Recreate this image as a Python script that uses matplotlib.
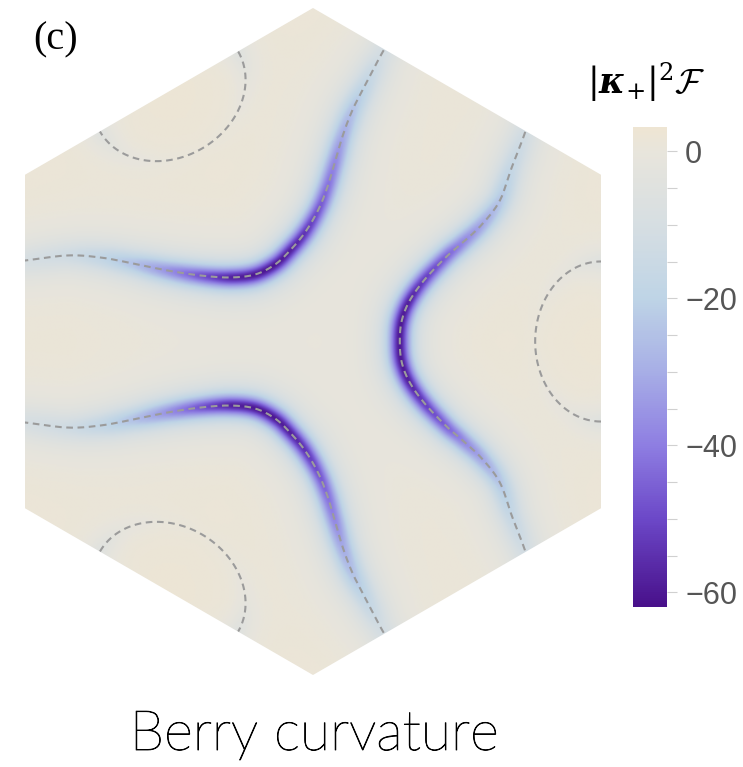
import numpy as np
import matplotlib
matplotlib.use('Agg')
import matplotlib.pyplot as plt
import matplotlib.patheffects as pe
from matplotlib.colors import LinearSegmentedColormap, Normalize
from matplotlib.patches import Polygon
from matplotlib.ticker import MultipleLocator

plt.rcParams['mathtext.fontset'] = 'custom'
plt.rcParams['mathtext.rm'] = 'DejaVu Serif'
plt.rcParams['mathtext.it'] = 'DejaVu Serif:italic'
plt.rcParams['mathtext.bf'] = 'DejaVu Serif:bold:italic'
plt.rcParams['mathtext.cal'] = 'cmsy10'

# colour scale of |kappa_+|^2 F
vmin, vmax = -62.0, 3.3
cbar_levels = [-62, -50, -40, -30, -20, -10, 0, 3.3]
cbar_colors = ['#48108a', '#6c48c8', '#8e7ee2', '#a7aee6', '#bed4e6',
               '#d6dee2', '#e8e5dc', '#eee5d3']
cbar_ticks = [0, -20, -40, -60]

# BZ hexagon (circumradius 1, pointy top)
hex_angles = np.deg2rad([90, 30, -30, -90, -150, 150])

# right-hand ridge of the curvature (BZ units), top edge -> bottom edge
right_kx = [0.655, 0.637, 0.598, 0.562, 0.508, 0.447, 0.402, 0.336, 0.291, 0.267,
            0.261,
            0.267, 0.291, 0.336, 0.402, 0.447, 0.508, 0.562, 0.598, 0.637, 0.655]
right_ky = [0.694, 0.625, 0.523, 0.423, 0.351, 0.294, 0.255, 0.186, 0.123, 0.063,
            0.0,
            -0.063, -0.123, -0.186, -0.255, -0.294, -0.351, -0.423, -0.523, -0.625, -0.694]
right_depth = [-12, -14, -19, -26, -34, -41, -47, -54, -60, -62,
               -62,
               -62, -60, -54, -47, -41, -34, -26, -19, -14, -12]
right_width = [0.055, 0.052, 0.046, 0.041, 0.037, 0.034, 0.032, 0.031, 0.030, 0.030,
               0.030,
               0.030, 0.030, 0.031, 0.032, 0.034, 0.037, 0.041, 0.046, 0.052, 0.055]

# upper-left ridge, left edge -> top edge (the lower-left one is its mirror in ky)
left_kx = [-0.910, -0.865, -0.739, -0.640, -0.541, -0.438, -0.339, -0.249, -0.174, -0.114,
           -0.069, -0.024, 0.015, 0.042, 0.066, 0.090, 0.120, 0.162, 0.201, 0.231]
left_ky = [0.240, 0.243, 0.258, 0.252, 0.234, 0.213, 0.198, 0.192, 0.201, 0.231,
           0.273, 0.327, 0.393, 0.459, 0.538, 0.619, 0.697, 0.778, 0.853, 0.904]
left_depth = [-11, -12, -15, -20, -27, -38, -50, -60, -62, -62,
              -60, -56, -50, -45, -40, -33, -27, -20, -14, -12]
left_width = [0.055, 0.054, 0.050, 0.046, 0.041, 0.036, 0.032, 0.030, 0.030, 0.030,
              0.030, 0.031, 0.032, 0.034, 0.036, 0.039, 0.043, 0.047, 0.052, 0.055]

# dashed pockets around the edge midpoints (inward depth, half-span along the edge)
pocket_angles = [0, 120, 240]
pocket_depth = 0.198
pocket_halfspan = 0.24
pocket_tint = [-7, -3, -1.5, -1, -1.5, -3, -7]
pocket_width = 0.036

base_level = 2.5


def smooth_curve(px, py, n=24):
    # Catmull-Rom through the control points, also returns the control-point index
    p = np.column_stack([px, py])
    p = np.vstack([2 * p[0] - p[1], p, 2 * p[-1] - p[-2]])
    pts, idx = [], []
    s = np.linspace(0, 1, n, endpoint=False)[:, None]
    for i in range(1, len(p) - 2):
        p0, p1, p2, p3 = p[i - 1], p[i], p[i + 1], p[i + 2]
        seg = 0.5 * (2 * p1 + (-p0 + p2) * s + (2 * p0 - 5 * p1 + 4 * p2 - p3) * s ** 2
                     + (-p0 + 3 * p1 - 3 * p2 + p3) * s ** 3)
        pts.append(seg)
        idx.append(i - 1 + s[:, 0])
    pts.append(p[-2][None])
    idx.append([len(p) - 3])
    return np.vstack(pts), np.concatenate(idx)


def ridge(kx, ky, depth, width):
    curve, idx = smooth_curve(kx, ky)
    ctrl = np.arange(len(kx))
    return curve, np.interp(idx, ctrl, depth), np.interp(idx, ctrl, width)


ridges = [ridge(right_kx, right_ky, right_depth, right_width),
          ridge(left_kx, left_ky, left_depth, left_width),
          ridge(left_kx, [-v for v in left_ky], left_depth, left_width)]

pockets = []
th = np.linspace(-np.pi / 2, np.pi / 2, 61)
th_ctrl = np.linspace(-np.pi / 2, np.pi / 2, len(pocket_tint))
for ang in pocket_angles:
    a = np.deg2rad(ang)
    mid = np.cos(np.pi / 6) * np.array([np.cos(a), np.sin(a)])
    nrm = -np.array([np.cos(a), np.sin(a)])
    tan = np.array([-np.sin(a), np.cos(a)])
    pts = (mid[None] + nrm[None] * pocket_depth * np.cos(th)[:, None]
           + tan[None] * pocket_halfspan * np.sin(th)[:, None])
    pockets.append((pts, np.interp(th, th_ctrl, pocket_tint),
                    np.full(th.size, pocket_width)))

# field on a grid covering the hexagon
hw = np.cos(np.pi / 6)
gx = np.linspace(-hw, hw, 460)
gy = np.linspace(-1, 1, 530)
KX, KY = np.meshgrid(gx, gy)
field = np.full(KX.shape, base_level)
for curve, amp, wid in ridges + pockets:
    best = np.full(KX.shape, np.inf)
    a_near = np.zeros(KX.shape)
    w_near = np.ones(KX.shape)
    for (cx, cy), a, w in zip(curve, amp, wid):
        d2 = (KX - cx) ** 2 + (KY - cy) ** 2
        m = d2 < best
        best[m] = d2[m]
        a_near[m] = a
        w_near[m] = w
    field += a_near / (1 + best / w_near ** 2)

pos = [(v - vmin) / (vmax - vmin) for v in cbar_levels]
cmap = LinearSegmentedColormap.from_list('bc', list(zip(pos, cbar_colors)))
norm = Normalize(vmin=vmin, vmax=vmax)

W, H = 743, 767
fig = plt.figure(figsize=(W / 100, H / 100), dpi=100)
ax = fig.add_axes([25 / W, (H - 675) / H, 576 / W, 667 / H])
ax.set_xlim(-hw, hw)
ax.set_ylim(-1, 1)
ax.axis('off')

hex_xy = np.column_stack([np.cos(hex_angles), np.sin(hex_angles)])
hex_patch = Polygon(hex_xy, closed=True, fc='none', ec='none')
ax.add_patch(hex_patch)

im = ax.imshow(field, origin='lower', extent=(-hw, hw, -1, 1), cmap=cmap, norm=norm,
               interpolation='bilinear', aspect='auto')
im.set_clip_path(hex_patch)

for curve, _, _ in ridges + pockets:
    ln, = ax.plot(curve[:, 0], curve[:, 1], color='#9b9b9b', lw=1.5,
                  linestyle=(0, (3.2, 2.2)))
    ln.set_clip_path(hex_patch)

cax = fig.add_axes([633 / W, (H - 607) / H, 34 / W, 480 / H])
cb = fig.colorbar(im, cax=cax, ticks=cbar_ticks)
cb.outline.set_visible(False)
cax.yaxis.set_minor_locator(MultipleLocator(5))
cax.tick_params(which='both', length=7, width=0.8, color='#d0d0d0', pad=6,
                labelsize=22, labelcolor='#555555')
for t in cax.get_yticklabels():
    t.set_family('Liberation Sans')

fig.text(56 / W, 1 - 40 / H, '(c)', family='Liberation Serif', size=29,
         ha='center', va='center')
fig.text(646 / W, 1 - 82 / H, r'$|\mathbf{\kappa}_{+}|^{2}\mathcal{F}$', size=25,
         ha='center', va='center')
fig.text(314 / W, 1 - 750 / H, 'Berry curvature', family='Lato', weight='light',
         size=40, ha='center', va='baseline',
         path_effects=[pe.withStroke(linewidth=0.6, foreground='black')])

fig.savefig('out.png', dpi=100)
